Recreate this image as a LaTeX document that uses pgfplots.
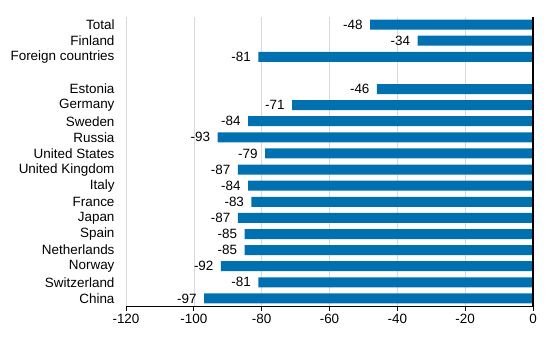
\documentclass[border=0pt]{standalone}
\usepackage{pgfplots}
\pgfplotsset{compat=1.18}
\usepackage{fontspec}
\setmainfont{Liberation Sans}
\definecolor{barblue}{RGB}{0,112,176}
\begin{document}
\begin{tikzpicture}
\useasboundingbox (-126bp,-33.5bp) rectangle (427bp,306.5bp);
\begin{axis}[
 at={(0,0)}, anchor=south west,
 scale only axis, width=407bp, height=290bp,
 xbar, bar width=10bp,
 xmin=-120, xmax=0, ymin=-0.5, ymax=17.5, y dir=reverse,
 xtick={-120,-100,-80,-60,-40,-20,0},
 ytick={0,1,2,4,5,6,7,8,9,10,11,12,13,14,15,16,17},
 yticklabels={Total,Finland,Foreign countries,Estonia,Germany,Sweden,Russia,United States,United Kingdom,Italy,France,Japan,Spain,Netherlands,Norway,Switzerland,China},
 axis line style={draw=none},
 xmajorgrids, grid style={color=black!15, line width=0.6pt},
 tick align=outside, xtick pos=bottom, major tick length=4bp,
 xtick style={black, line width=1pt},
 ytick style={draw=none},
 yticklabel style={xshift=-4bp},
 font=\fontsize{13.5}{16}\selectfont,
 /pgf/number format/assume math mode=true,
 nodes near coords,
 nodes near coords style={anchor=east, black, xshift=-4bp, font=\fontsize{13.5}{16}\selectfont},
 clip=false,
]
\addplot[draw=none, fill=barblue] coordinates {
(-48,0) (-34,1) (-81,2)
(-46,4) (-71,5) (-84,6) (-93,7) (-79,8) (-87,9) (-84,10) (-83,11) (-87,12) (-85,13) (-85,14) (-92,15) (-81,16) (-97,17)};
\draw[black, line width=1.8pt] (axis cs:-120,17.5) -- (axis cs:0,17.5) -- (axis cs:0,-0.5);
\end{axis}
\end{tikzpicture}
\end{document}
